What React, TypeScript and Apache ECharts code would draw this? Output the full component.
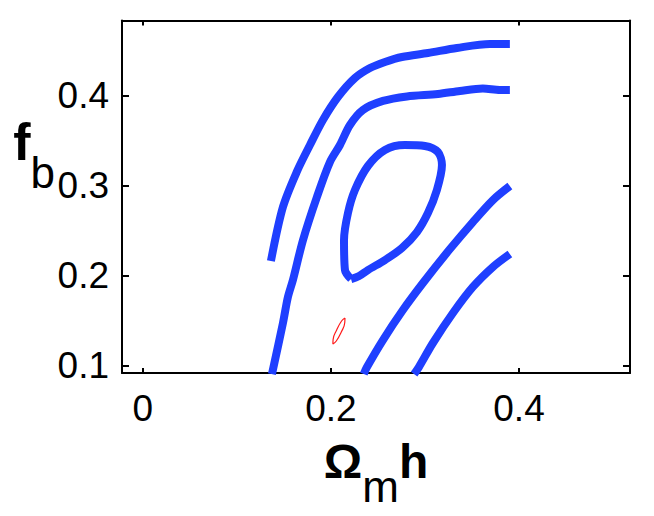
import React, { useEffect, useRef } from "react";
import * as echarts from "echarts";

// ---- axis settings (data units) ----
const xTicks = [0, 0.2, 0.4];
const yTicks = [0.1, 0.2, 0.3, 0.4];
const xMin = -0.022;
const xMax = 0.518;
const yMin = 0.0917;
const yMax = 0.483;

// ---- contour lines [Omega_m h, f_b] ----
const contourOuter: [number, number][] = [
  [0.1363, 0.216], [0.1491, 0.276], [0.164, 0.3155], [0.1778, 0.3448],
  [0.1916, 0.3726], [0.2075, 0.3981], [0.2256, 0.4192], [0.2416, 0.4303],
  [0.2575, 0.437], [0.2756, 0.4425], [0.3032, 0.4469], [0.334, 0.4525],
  [0.3691, 0.4569], [0.3903, 0.4569],
];

const contourSecond: [number, number][] = [
  [0.1374, 0.0905], [0.1491, 0.1472], [0.1544, 0.1761], [0.1597, 0.1949],
  [0.1704, 0.2393], [0.1852, 0.2871], [0.199, 0.3259], [0.2097, 0.3448],
  [0.2203, 0.367], [0.2341, 0.3837], [0.2554, 0.3937], [0.2809, 0.3987],
  [0.3138, 0.4014], [0.3372, 0.4048], [0.3616, 0.4075], [0.3797, 0.4059],
  [0.3903, 0.4059],
];

const contourLoop: [number, number][] = [
  [0.2215, 0.196], [0.215, 0.206], [0.214, 0.2393], [0.2182, 0.2693],
  [0.2256, 0.2948], [0.2394, 0.3215], [0.2575, 0.3393], [0.2787, 0.3448],
  [0.3, 0.3437], [0.3138, 0.337], [0.3181, 0.3226], [0.3127, 0.2948],
  [0.3032, 0.2693], [0.2915, 0.2482], [0.2756, 0.2305], [0.2575, 0.2171],
  [0.2394, 0.206], [0.2295, 0.199], [0.2215, 0.196],
];

const contourLowerA: [number, number][] = [
  [0.235, 0.0905], [0.2384, 0.0983], [0.2554, 0.1283], [0.2766, 0.1616],
  [0.2979, 0.1916], [0.3266, 0.2293], [0.351, 0.2593], [0.3723, 0.2837],
  [0.3903, 0.2993],
];

const contourLowerB: [number, number][] = [
  [0.2885, 0.0905], [0.2936, 0.0983], [0.3085, 0.125], [0.3298, 0.1583],
  [0.351, 0.1872], [0.3723, 0.2094], [0.3903, 0.2238],
];

const redEllipse: [number, number][] = [
  [0.215, 0.1527], [0.2148, 0.1477], [0.2111, 0.1372], [0.2058, 0.1272],
  [0.2022, 0.1239], [0.2024, 0.1289], [0.2062, 0.1394], [0.2114, 0.1494],
  [0.215, 0.1527],
];

const BLUE = "#1f3fff";
const FONT = "Liberation Sans";

function blueLine(data: [number, number][]) {
  return {
    type: "line",
    data,
    symbol: "none",
    showSymbol: false,
    smooth: 0.3,
    silent: true,
    clip: true,
    lineStyle: { color: BLUE, width: 8, cap: "butt", join: "round" },
  };
}

export default function App() {
  const ref = useRef<HTMLDivElement>(null);

  useEffect(() => {
    if (!ref.current) return;
    const chart = echarts.init(ref.current, undefined, { renderer: "svg" });
    const axisLine = {
      show: true,
      onZero: false,
      lineStyle: { color: "#000", width: 2 },
    };
    const option: any = {
      animation: false,
      backgroundColor: "#fff",
      grid: {
        left: 122,
        top: 20.5,
        width: 508,
        height: 352.5,
        containLabel: false,
        outerBoundsMode: "none",
      },
      xAxis: [
        {
          type: "value",
          position: "bottom",
          min: xMin,
          max: xMax,
          axisLine,
          axisTick: {
            show: true,
            inside: true,
            length: 5,
            customValues: xTicks,
            lineStyle: { color: "#000", width: 2 },
          },
          axisLabel: {
            show: true,
            customValues: xTicks,
            margin: 17,
            fontFamily: FONT,
            fontSize: 37,
            color: "#000",
            formatter: (v: number) => String(v),
          },
          splitLine: { show: false },
          name: "{a|Ω}{s|m}{a|h}",
          nameLocation: "middle",
          nameGap: 64,
          nameMoveOverlap: false,
          nameTextStyle: {
            fontFamily: FONT,
            color: "#000",
            rich: {
              a: {
                fontFamily: FONT,
                fontSize: 48,
                fontWeight: "bold",
                lineHeight: 48,
                verticalAlign: "top",
                color: "#000",
              },
              s: {
                fontFamily: FONT,
                fontSize: 44,
                lineHeight: 99,
                color: "#000",
              },
            },
          },
        },
        {
          type: "value",
          position: "top",
          min: xMin,
          max: xMax,
          axisLine,
          axisTick: {
            show: true,
            inside: true,
            length: 5,
            customValues: xTicks,
            lineStyle: { color: "#000", width: 2 },
          },
          axisLabel: { show: false },
          splitLine: { show: false },
        },
      ],
      yAxis: [
        {
          type: "value",
          position: "left",
          min: yMin,
          max: yMax,
          axisLine,
          axisTick: {
            show: true,
            inside: true,
            length: 7,
            customValues: yTicks,
            lineStyle: { color: "#000", width: 2 },
          },
          axisLabel: {
            show: true,
            customValues: yTicks,
            margin: 13,
            fontFamily: FONT,
            fontSize: 37,
            color: "#000",
            formatter: (v: number) => String(v),
          },
          splitLine: { show: false },
          name: "{f|f}{b|b}",
          nameLocation: "middle",
          nameRotate: 0,
          nameGap: 67,
          nameMoveOverlap: false,
          nameTextStyle: {
            fontFamily: FONT,
            color: "#000",
            padding: [0, 0, 48, 0],
            rich: {
              f: {
                fontFamily: FONT,
                fontSize: 52,
                fontWeight: "bold",
                lineHeight: 52,
                verticalAlign: "top",
                color: "#000",
              },
              b: {
                fontFamily: FONT,
                fontSize: 44,
                lineHeight: 114,
                color: "#000",
              },
            },
          },
        },
        {
          type: "value",
          position: "right",
          min: yMin,
          max: yMax,
          axisLine,
          axisTick: {
            show: true,
            inside: true,
            length: 7,
            customValues: yTicks,
            lineStyle: { color: "#000", width: 2 },
          },
          axisLabel: { show: false },
          splitLine: { show: false },
        },
      ],
      series: [
        blueLine(contourOuter),
        blueLine(contourSecond),
        blueLine(contourLoop),
        blueLine(contourLowerA),
        blueLine(contourLowerB),
        {
          type: "line",
          data: redEllipse,
          symbol: "none",
          showSymbol: false,
          smooth: 0.5,
          silent: true,
          lineStyle: { color: "#ff1a1a", width: 1.2 },
        },
      ],
    };
    chart.setOption(option);
    return () => chart.dispose();
  }, []);

  return (
    <div
      ref={ref}
      style={{
        position: "absolute",
        left: 0,
        top: 0,
        width: 654,
        height: 516,
        background: "#fff",
      }}
    />
  );
}
